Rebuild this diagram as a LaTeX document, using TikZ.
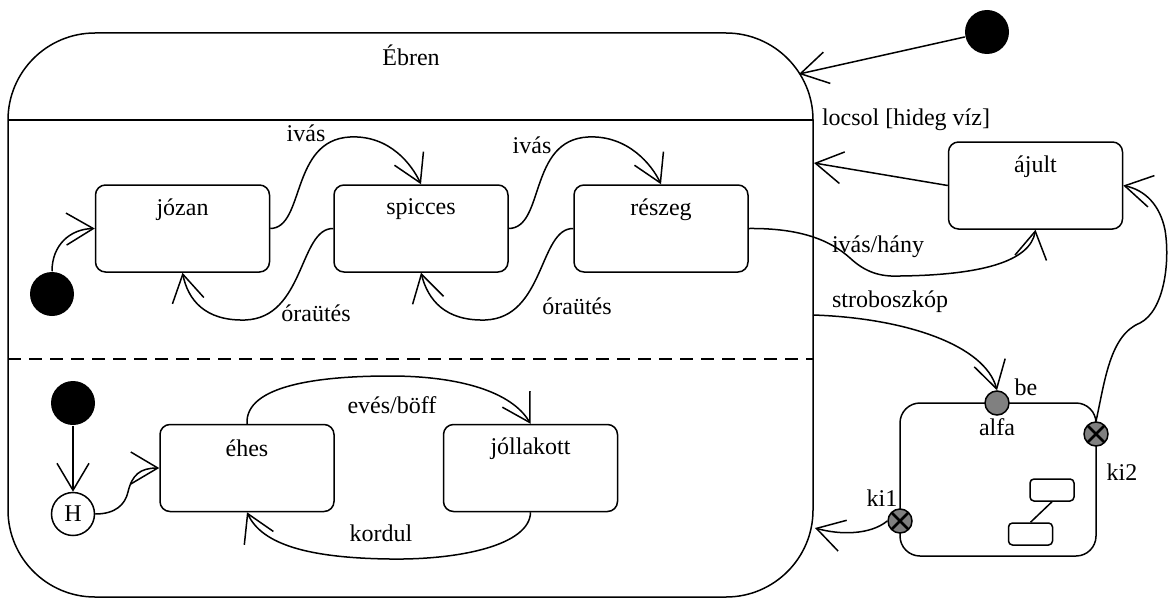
\documentclass[tikz,border=0pt]{standalone}
\usepackage{fontspec}
\setmainfont{Liberation Serif}
\usetikzlibrary{arrows.meta}

\tikzset{
  statebox/.style={draw, rounded corners=5pt, minimum width=87pt, minimum height=43.5pt},
  lbl/.style={anchor=center, yshift=-12.5pt},
  initdot/.style={circle, fill=black, minimum size=22pt, inner sep=0pt},
  entrypt/.style={circle, draw, fill=gray, minimum size=12pt, inner sep=0pt},
  exitpt/.style={entrypt, path picture={
      \draw[line width=1.3pt] (path picture bounding box.south west) -- (path picture bounding box.north east)
        (path picture bounding box.north west) -- (path picture bounding box.south east);}},
  tr/.style={-{Straight Barb[length=13.5pt,width=16pt]}},
}

\begin{document}
\begin{tikzpicture}[x=0.5pt, y=-0.5pt, line width=0.75pt, font=\fontsize{12}{14}\selectfont]
\useasboundingbox (0,0) rectangle (1170,599);

% Ebren
\node[draw, rounded corners=43.5pt, minimum width=402.5pt, minimum height=282pt] (ebren) at (410.5,315) {};
\node (ebrenlbl) at (411,55) {Ébren};
\draw (8,120) -- (813,120);
\draw[dash pattern=on 6.5pt off 4pt] (8,359) -- (813,359);
\coordinate (ebtop) at (799,74);
\coordinate (ebloc) at (814,163);
\coordinate (ebstr) at (813,315);
\coordinate (ebki) at (815,528);

% upper region
\node[initdot] (init1) at (52,294) {};
\node[statebox, label={[lbl]north:józan}] (jozan) at (182.5,228.5) {};
\node[statebox, label={[lbl]north:spicces}] (spicces) at (421,228.5) {};
\node[statebox, label={[lbl]north:részeg}] (reszeg) at (661,228.5) {};

\draw[tr] (init1.north) .. controls (52,245) and (70,229) .. (jozan.west);
\draw[tr] (jozan.east) .. controls (305,228) and (290,140) .. (350,137) .. controls (390,135) and (412,165) .. (spicces.north);
\draw[tr] (spicces.east) .. controls (545,228) and (528,140) .. (588,137) .. controls (628,135) and (652,165) .. (reszeg.north);
\draw[tr] (spicces.west) .. controls (299,228) and (305,318) .. (245,320) .. controls (205,321) and (188,300) .. (jozan.south);
\draw[tr] (reszeg.west) .. controls (539,228) and (545,318) .. (485,320) .. controls (445,321) and (428,300) .. (spicces.south);
\node (ivas1) at (306,133) {ivás};
\node (ivas2) at (532,145) {ivás};
\node (ora1) at (316,313) {óraütés};
\node (ora2) at (577,306) {óraütés};

% lower region
\node[initdot] (init2) at (73,403) {};
\node[circle, draw, minimum size=21.5pt, inner sep=0pt] (hist) at (73,514) {H};
\node[statebox, label={[lbl]north:éhes}] (ehes) at (247,468) {};
\node[statebox, label={[lbl]north:jóllakott}] (jollakott) at (530.5,468) {};

\draw[tr] (init2) -- (hist);
\draw[tr] (hist.east) .. controls (115,514) and (125,505) .. (128,492) .. controls (132,475) and (140,468) .. (ehes.west);
\draw[tr] (ehes.north) .. controls (245,385) and (320,376) .. (390,376) .. controls (460,376) and (512,392) .. (jollakott.north);
\draw[tr] (jollakott.south) .. controls (530,545) and (460,560) .. (390,559) .. controls (310,558) and (262,545) .. (ehes.south);
\node (eves) at (392,405) {evés/böff};
\node (kordul) at (381,533) {kordul};

% outside
\node[initdot] (init0) at (987,32) {};
\draw[tr] (init0) -- (ebtop);

\node[statebox, label={[lbl]north:ájult}] (ajult) at (1035.5,185.5) {};
\draw[tr] (ajult.west) -- (ebloc);
\node (locsol) at (906,120) {locsol [hideg víz]};

\draw[tr] (reszeg.east) .. controls (800,228) and (830,240) .. (850,258) .. controls (865,272) and (880,277) .. (900,276) .. controls (980,275) and (1030,262) .. (ajult.south);
\node (hany) at (878,247) {ivás/hány};

% alfa
\node[draw, rounded corners=10pt, minimum width=98pt, minimum height=76.5pt] (alfa) at (998,479.5) {};
\node[entrypt] (be) at (997,403) {};
\node (belbl) at (1026,387) {be};
\node (alfalbl) at (997,427) {alfa};
\node[exitpt] (ki2) at (1096,434) {};
\node (ki2lbl) at (1122,472) {ki2};
\node[exitpt] (ki1) at (900,521) {};
\node (ki1lbl) at (882,498) {ki1};
\node[draw, rounded corners=2pt, minimum width=22pt, minimum height=11pt, inner sep=0pt] (sub1) at (1052,490) {};
\node[draw, rounded corners=2pt, minimum width=22pt, minimum height=11pt, inner sep=0pt] (sub2) at (1030.5,534) {};
\draw (sub1.south) -- (sub2.north);

\draw[tr] (ebstr) .. controls (905,318) and (985,345) .. (be.north);
\node (strobo) at (890,302) {stroboszkóp};
\draw[tr] (ki2.north) .. controls (1105,380) and (1110,335) .. (1140,323) .. controls (1165,310) and (1170,260) .. (1165,230) .. controls (1160,205) and (1145,190) .. (ajult.east);
\draw[tr] (ki1.west) .. controls (870,535) and (840,535) .. (ebki);
\end{tikzpicture}
\end{document}
